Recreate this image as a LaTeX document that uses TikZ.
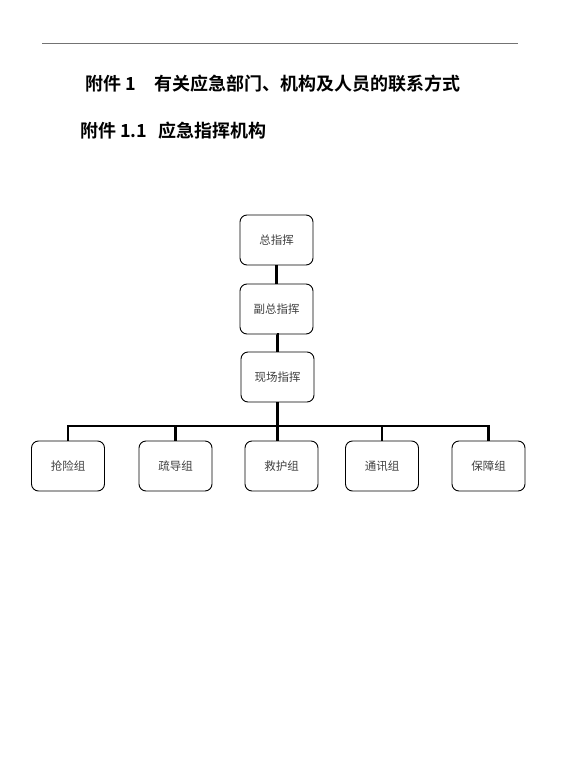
\documentclass[tikz,border=0pt]{standalone}
\usepackage{fontspec}
\newfontfamily\cjk{Noto Sans CJK SC}
\newfontfamily\cjkb{Noto Sans CJK SC Bold}
\begin{document}
\begin{tikzpicture}[x=1pt,y=-1pt,
  orgbox/.style={draw=black,line width=0.9pt,rounded corners=7pt,minimum width=73pt,minimum height=50pt,inner sep=0pt,font=\cjk\fontsize{11.5}{13}\selectfont,text=black!75},
  link/.style={line width=2.6pt,black},
  title/.style={anchor=west,inner sep=0pt,font=\cjkb\fontsize{18}{20}\selectfont}]
\useasboundingbox (0,0) rectangle (566,779);
\draw[black!55,line width=1pt] (42,43) -- (518,43);
\node[title] (t1a) at (85,84) {附件 1};
\node[title] (t1b) at (154,84) {有关应急部门、机构及人员的联系方式};
\node[title] (t2a) at (80,131) {附件 1.1};
\node[title] (t2b) at (158,131) {应急指挥机构};

\node[orgbox] (zong) at (276.5,240) {总指挥};
\node[orgbox] (fu) at (276.5,309) {副总指挥};
\node[orgbox] (xian) at (277.5,377) {现场指挥};

\node[orgbox] (g1) at (68,466) {抢险组};
\node[orgbox] (g2) at (175.5,466) {疏导组};
\node[orgbox] (g3) at (281.5,466) {救护组};
\node[orgbox] (g4) at (382,466) {通讯组};
\node[orgbox] (g5) at (488.5,466) {保障组};

\coordinate (bar) at (278,426);
\draw[link] (zong.south) -- (fu.north);
\draw[link] (fu.south) -- (xian.south |- fu.south) -- (xian.north);
\draw[link] (xian.south) -- (xian.south |- g3.north);
\draw[link] (g1.north) -- (g1.north |- bar) -- (g5.north |- bar) -- (g5.north);
\draw[link] (g2.north) -- (g2.north |- bar);
\draw[link] (g4.north) -- (g4.north |- bar);
\end{tikzpicture}
\end{document}
